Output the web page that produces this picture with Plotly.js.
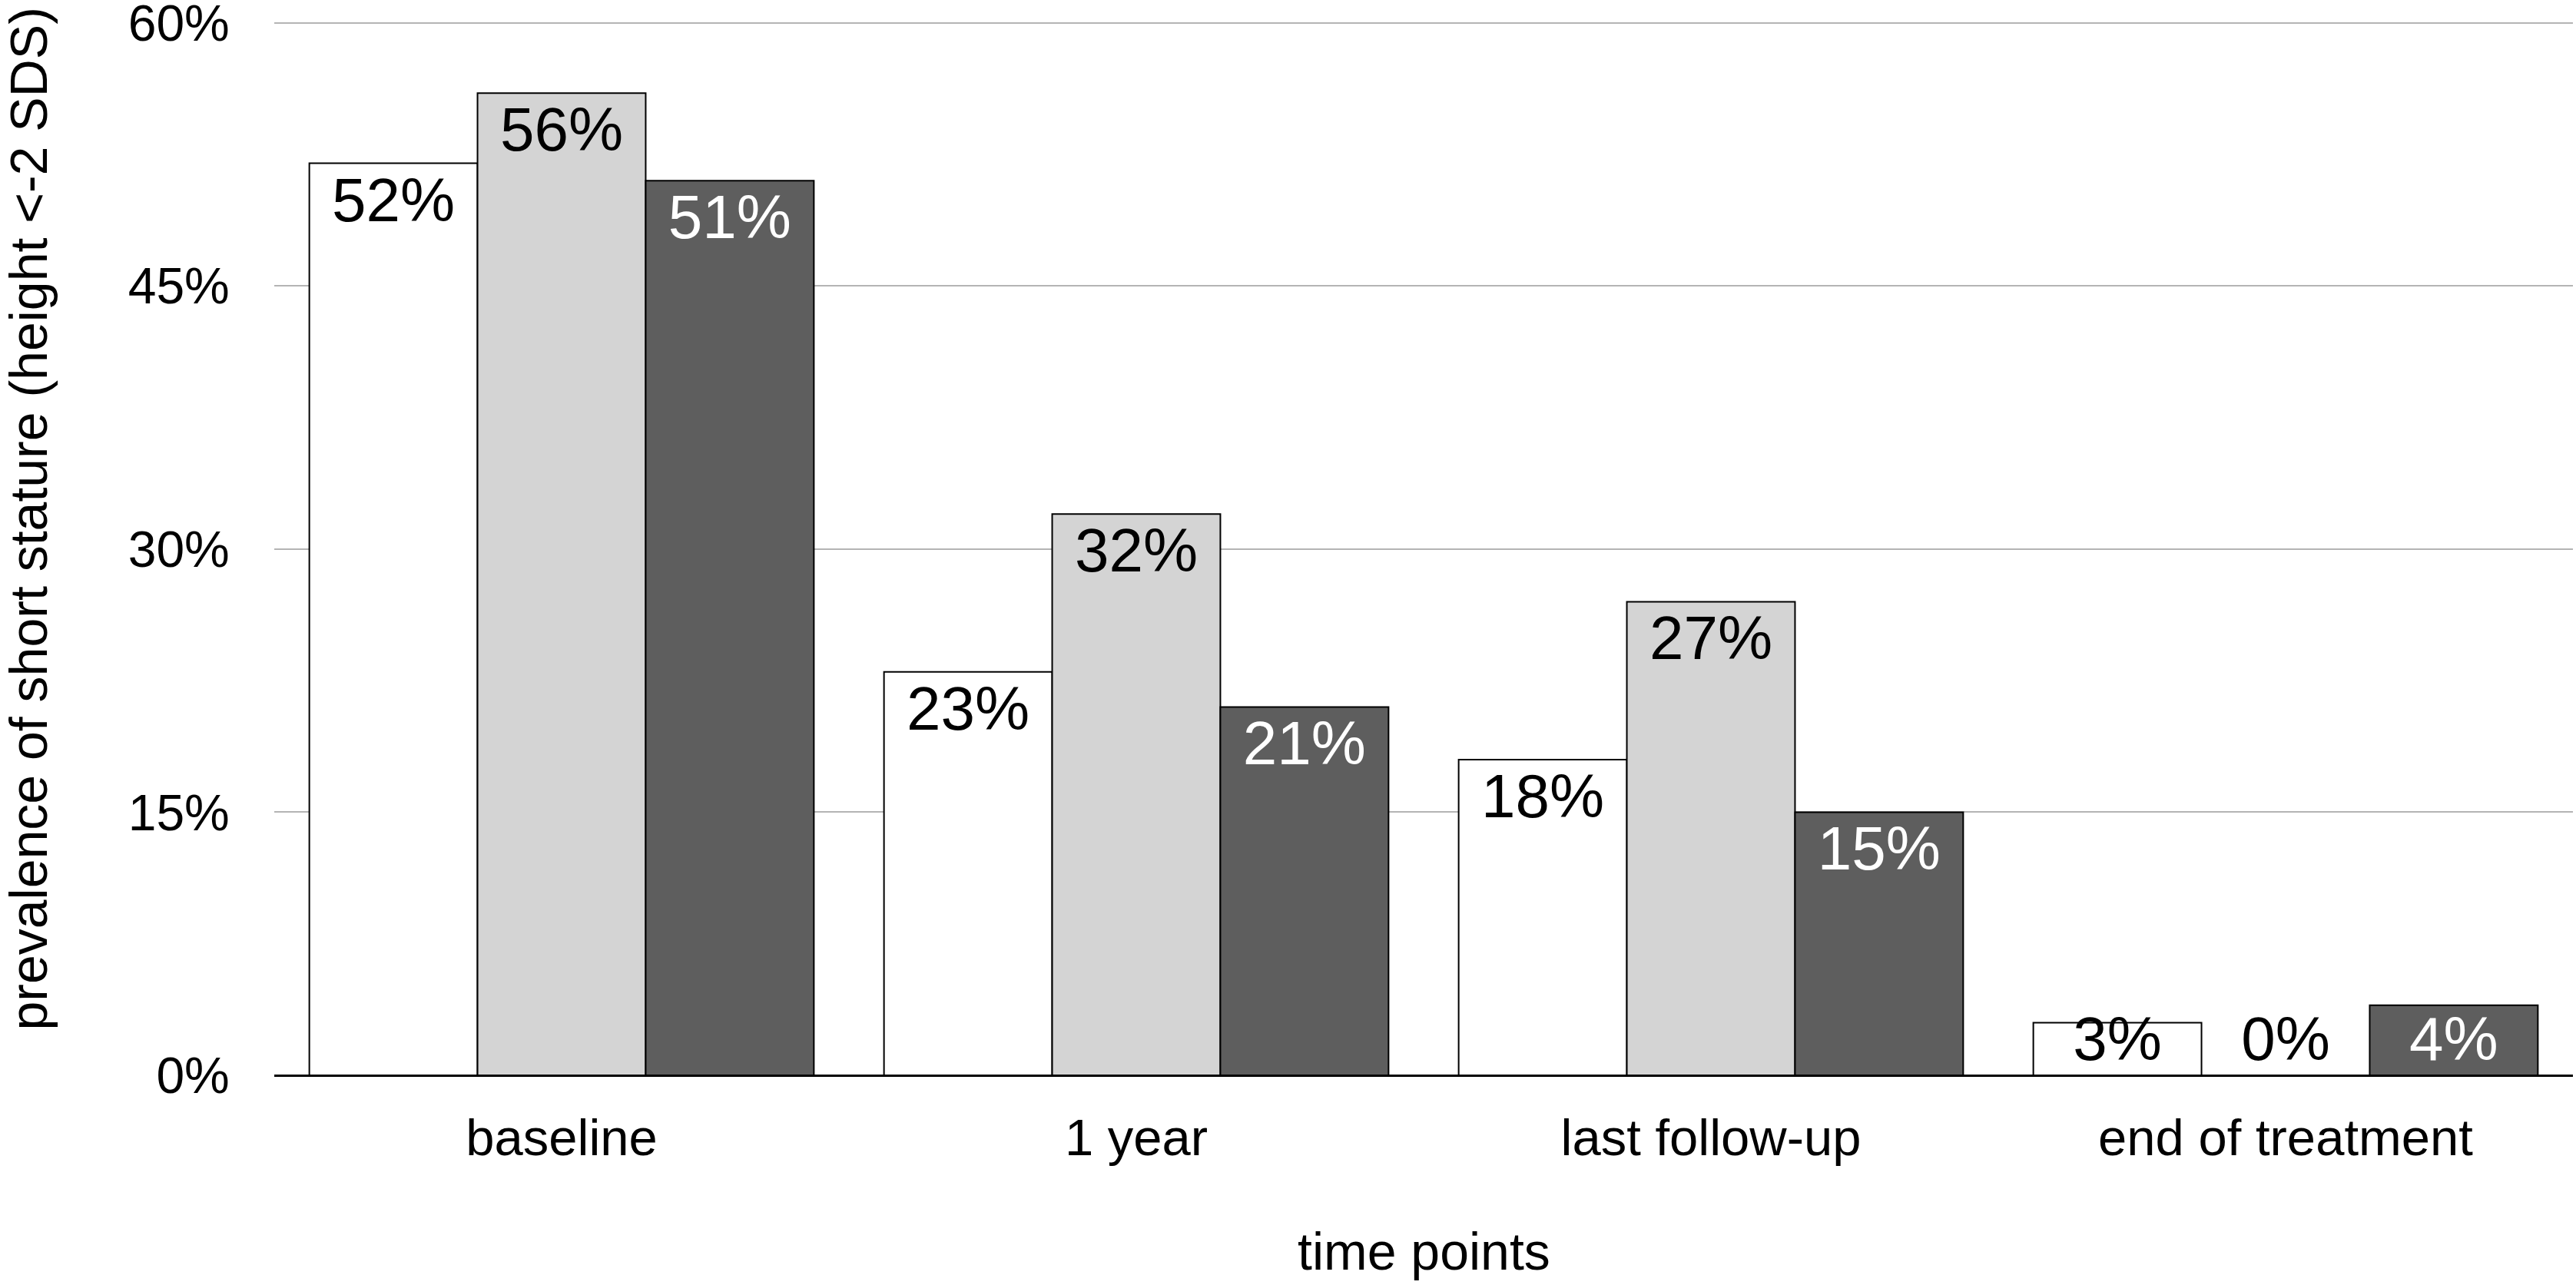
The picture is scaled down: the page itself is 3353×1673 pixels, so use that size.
<!DOCTYPE html>
<html>
<head>
<meta charset="utf-8">
<script src="https://cdn.plot.ly/plotly-3.0.1.min.js"></script>
<style>
  html, body { margin: 0; padding: 0; background: #ffffff; }
  #chart { width: 3353px; height: 1673px; }
</style>
</head>
<body>
<div id="chart"></div>
<script>

// time points on the x axis
const categories = ['baseline', '1 year', 'last follow-up', 'end of treatment'];

// prevalence of short stature (%) per group
const group1 = [52, 23, 18, 3];
const group2 = [56, 32, 27, 0];
const group3 = [51, 21, 15, 4];

const yTicks = [0, 15, 30, 45, 60];
const yTickLabels = ['0%', '15%', '30%', '45%', '60%'];

// bars shorter than this get their label sitting on the axis instead of under the top edge
const SMALL = 10;

const FONT = 'Liberation Sans, Arial, Helvetica, sans-serif';

function mainTrace(name, values, fill, textColor) {
	return {
		type: 'bar',
		name: name,
		x: categories,
		y: values,
		offsetgroup: name,
		marker: { color: fill, line: { color: '#000000', width: 2 } },
		text: values.map(v => v < SMALL ? '' : v + '%'),
		textposition: 'inside',
		insidetextanchor: 'end',
		constraintext: 'none',
		textangle: 0,
		insidetextfont: { family: FONT, size: 80, color: textColor },
		hoverinfo: 'x+y',
	};
}

function labelTrace(name, values, textColor) {
	let ys = values.map(v => v < SMALL ? v : null);
	return {
		type: 'bar',
		name: name + ' label',
		x: categories,
		y: ys,
		offsetgroup: name,
		marker: { color: 'rgba(0,0,0,0)', line: { width: 0 } },
		text: ys.map(v => v === null ? '' : v + '%'),
		textposition: ys.map(v => v > 0 ? 'inside' : 'outside'),
		insidetextanchor: 'start',
		constraintext: 'none',
		textangle: 0,
		cliponaxis: false,
		insidetextfont: { family: FONT, size: 80, color: textColor },
		outsidetextfont: { family: FONT, size: 80, color: '#000000' },
		hoverinfo: 'skip',
	};
}

const traces = [
	mainTrace('group 1', group1, '#ffffff', '#000000'),
	mainTrace('group 2', group2, '#d4d4d4', '#000000'),
	mainTrace('group 3', group3, '#5e5e5e', '#ffffff'),
	labelTrace('group 1', group1, '#000000'),
	labelTrace('group 2', group2, '#000000'),
	labelTrace('group 3', group3, '#ffffff'),
];

const layout = {
	width: 3353, height: 1673,
	margin: { l: 357, r: 4, t: 23, b: 273 },
	paper_bgcolor: '#ffffff',
	plot_bgcolor: '#ffffff',
	barmode: 'group',
	bargap: 0.122,
	bargroupgap: 0,
	showlegend: false,
	font: { family: FONT, color: '#000000' },
	xaxis: {
		type: 'category',
		showgrid: false,
		showline: false,
		ticks: 'outside',
		ticklen: 23,
		tickcolor: 'rgba(0,0,0,0)',
		tickfont: { family: FONT, size: 67, color: '#000000' },
	},
	yaxis: {
		range: [0, 60.3],
		tickmode: 'array',
		tickvals: yTicks,
		ticktext: yTickLabels,
		ticklabeloverflow: 'allow',
		showgrid: true,
		gridcolor: '#b4b4b4',
		gridwidth: 2,
		zeroline: true,
		zerolinecolor: '#000000',
		zerolinewidth: 3,
		showline: false,
		ticks: 'outside',
		ticklen: 44,
		tickcolor: 'rgba(0,0,0,0)',
		tickfont: { family: FONT, size: 66, color: '#000000' },
	},
	annotations: [
		{
			text: 'prevalence of short stature (height <-2 SDS)',
			xref: 'paper', yref: 'paper',
			x: -0.107, y: 0.526,
			xanchor: 'center', yanchor: 'middle',
			textangle: -90,
			showarrow: false,
			font: { family: FONT, size: 68, color: '#000000' },
		},
		{
			text: 'time points',
			xref: 'paper', yref: 'paper',
			x: 0.5, y: -0.166,
			xanchor: 'center', yanchor: 'middle',
			showarrow: false,
			font: { family: FONT, size: 68, color: '#000000' },
		},
	],
};

Plotly.newPlot('chart', traces, layout, { displayModeBar: false, staticPlot: true });

</script>
</body>
</html>
